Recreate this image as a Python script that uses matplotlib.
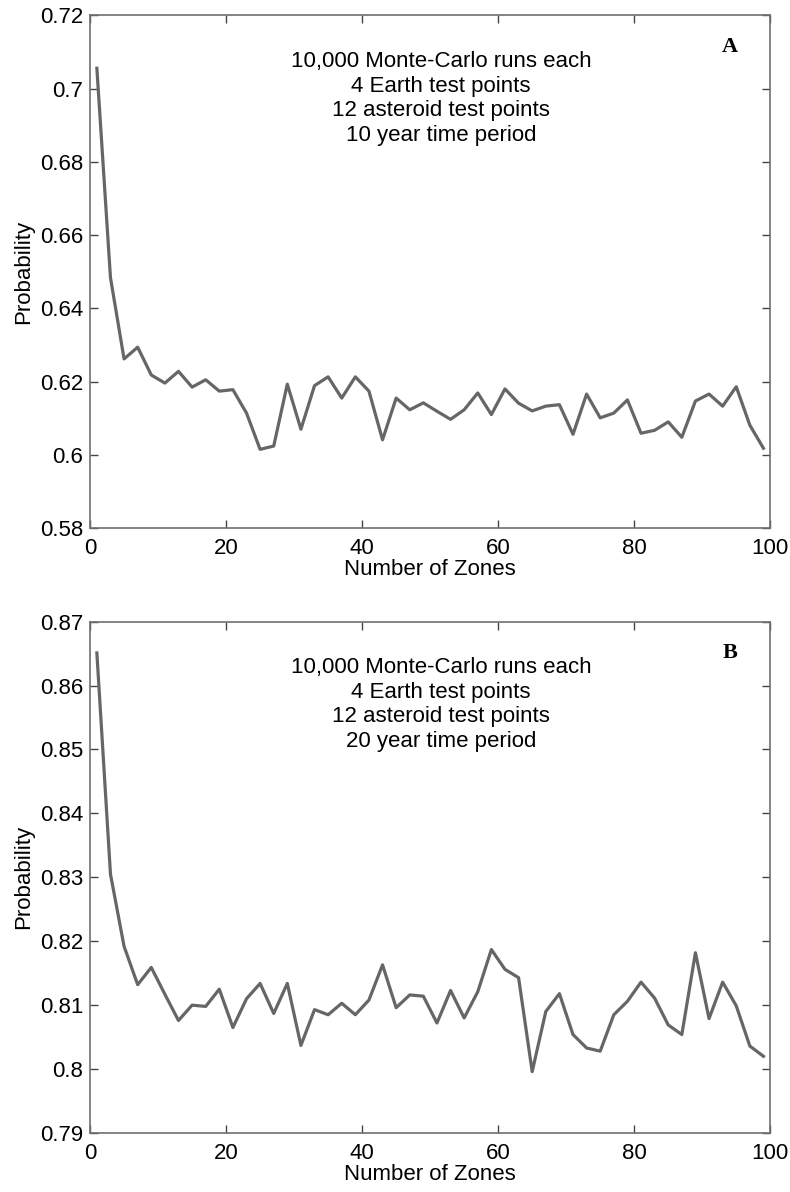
import matplotlib
matplotlib.use("Agg")
import matplotlib.pyplot as plt
from matplotlib.ticker import FuncFormatter

plt.rcParams['font.family'] = ['Liberation Sans', 'DejaVu Sans']

zones = list(range(1, 100, 2))

prob_10yr = [0.7056, 0.6484, 0.6262, 0.6294, 0.6218, 0.6196, 0.6228, 0.6185, 0.6205, 0.6174,
             0.6178, 0.6114, 0.6015, 0.6024, 0.6193, 0.6070, 0.6189, 0.6213, 0.6155, 0.6213,
             0.6174, 0.6041, 0.6155, 0.6123, 0.6142, 0.6119, 0.6097, 0.6123, 0.6169, 0.6110,
             0.6180, 0.6141, 0.6120, 0.6133, 0.6137, 0.6056, 0.6166, 0.6101, 0.6114, 0.6150,
             0.6059, 0.6067, 0.6090, 0.6048, 0.6147, 0.6166, 0.6133, 0.6186, 0.6081, 0.6018]

prob_20yr = [0.8651, 0.8305, 0.8192, 0.8132, 0.8159, 0.8117, 0.8076, 0.8100, 0.8098, 0.8125,
             0.8065, 0.8110, 0.8134, 0.8087, 0.8134, 0.8037, 0.8093, 0.8085, 0.8103, 0.8085,
             0.8108, 0.8163, 0.8096, 0.8116, 0.8114, 0.8072, 0.8123, 0.8080, 0.8121, 0.8187,
             0.8156, 0.8143, 0.7996, 0.8090, 0.8118, 0.8054, 0.8033, 0.8028, 0.8085, 0.8106,
             0.8136, 0.8111, 0.8069, 0.8054, 0.8182, 0.8079, 0.8136, 0.8099, 0.8036, 0.8020]

note_a = "10,000 Monte-Carlo runs each\n4 Earth test points\n12 asteroid test points\n10 year time period"
note_b = "10,000 Monte-Carlo runs each\n4 Earth test points\n12 asteroid test points\n20 year time period"

line_color = '#666666'
axis_color = '#707070'
fs = 16


def fmt(v, pos):
    return '%g' % round(v, 4)


def make_panel(ax, y, ylim, ystep, note, tag):
    ax.plot(zones, y, color=line_color, linewidth=2.3)
    ax.set_xlim(0, 100)
    ax.set_ylim(*ylim)
    ax.set_xticks(range(0, 101, 20))
    n = int(round((ylim[1] - ylim[0]) / ystep))
    ax.set_yticks([ylim[0] + i * ystep for i in range(n + 1)])
    ax.yaxis.set_major_formatter(FuncFormatter(fmt))
    ax.tick_params(direction='in', top=True, right=True, labelsize=fs,
                   length=6, width=1, color='#444444')
    ax.tick_params(axis='x', pad=7)
    ax.tick_params(axis='y', pad=5)
    for s in ax.spines.values():
        s.set_color(axis_color)
        s.set_linewidth(1.2)
    ax.set_xlabel("Number of Zones", fontsize=fs, labelpad=0)
    ax.set_ylabel("Probability", fontsize=fs, labelpad=4)
    ax.text(0.516, 0.93, note, transform=ax.transAxes, ha='center', va='top',
            fontsize=fs, linespacing=1.22)
    ax.text(0.941, 0.938, tag, transform=ax.transAxes, ha='center', va='center',
            fontsize=16, fontweight='bold', family='Liberation Serif')


fig = plt.figure(figsize=(7.9, 11.92), dpi=100)
ax1 = fig.add_axes([0.114, 0.557, 0.861, 0.430])
ax2 = fig.add_axes([0.114, 0.0495, 0.861, 0.429])

make_panel(ax1, prob_10yr, (0.58, 0.72), 0.02, note_a, 'A')
make_panel(ax2, prob_20yr, (0.79, 0.87), 0.01, note_b, 'B')

fig.savefig("out.png", dpi=100)
